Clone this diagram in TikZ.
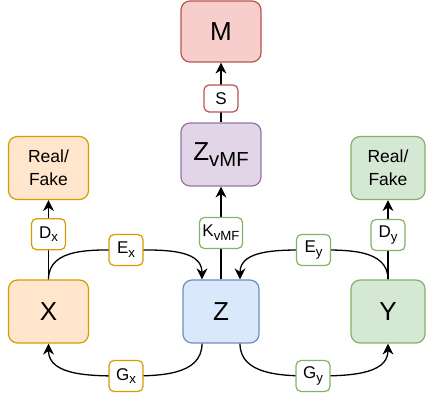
\documentclass[tikz,border=0pt]{standalone}
\usepackage{fontspec}
\usepackage{graphicx}
\setmainfont{Liberation Sans}
\usetikzlibrary{arrows.meta}

\definecolor{orangefill}{HTML}{FFE6CC}
\definecolor{orangeline}{HTML}{D79B00}
\definecolor{bluefill}{HTML}{DAE8FC}
\definecolor{blueline}{HTML}{6C8EBF}
\definecolor{greenfill}{HTML}{D5E8D4}
\definecolor{greenline}{HTML}{82B366}
\definecolor{purplefill}{HTML}{E1D5E7}
\definecolor{purpleline}{HTML}{9673A6}
\definecolor{redfill}{HTML}{F8CECC}
\definecolor{redline}{HTML}{B85450}

% lowered index for the labels
\newcommand{\idx}[1]{\raisebox{-.22em}{\scalebox{.78}{#1}}}

\begin{document}
\begin{tikzpicture}[
    x=1pt, y=1pt,
    block/.style={
        draw,
        rounded corners=9pt,
        line width=1.2pt,
        minimum width=80pt,
        minimum height=63pt,
        inner sep=0pt,
        font=\fontsize{26}{30}\selectfont
    },
    judge/.style={
        block,
        align=center,
        font=\fontsize{17.5}{23}\selectfont
    },
    tag/.style={
        draw,
        fill=white,
        rounded corners=5pt,
        line width=1.2pt,
        minimum width=34pt,
        minimum height=31pt,
        inner xsep=3pt,
        font=\fontsize{17}{20}\selectfont
    },
    flow/.style={
        line width=1.3pt,
        -{Stealth[length=11pt,width=11pt,inset=3.5pt]}
    }
]
    \useasboundingbox (0,0) rectangle (426,401);

    \node[block, fill=redfill, draw=redline, minimum height=61pt] (M) at (221,369.5) {M};
    \node[block, fill=purplefill, draw=purpleline] (Zv) at (221,246.5) {Z\idx{vMF}};

    \node[judge, fill=orangefill, draw=orangeline] (RFx) at (48.5,233) {Real/\\Fake};
    \node[judge, fill=greenfill, draw=greenline, minimum width=74pt] (RFy) at (388,233) {Real/\\Fake};

    \node[block, fill=orangefill, draw=orangeline] (X) at (48.5,89.5) {X};
    \node[block, fill=bluefill, draw=blueline, minimum width=76pt] (Z) at (221,89.5) {Z};
    \node[block, fill=greenfill, draw=greenline, minimum width=74pt] (Y) at (388,89.5) {Y};

    % bend points of the encoder / generator curves
    \node[coordinate] (ex) at (126,151) {};
    \node[coordinate] (ey) at (313.5,151) {};
    \node[coordinate] (gx) at (126,25) {};
    \node[coordinate] (gy) at (313,25) {};

    \draw[flow] (Zv) -- node[tag, draw=redline, pos=0.4, minimum height=27pt] (S) {S} (M);
    \draw[flow] (Z) -- node[tag, draw=greenline] (K) {K\idx{vMF}} (Zv);
    \draw[flow] (X) -- node[tag, draw=orangeline, pos=0.57] (Dx) {D\idx{x}} (RFx);
    \draw[flow] (Y) -- node[tag, draw=greenline, pos=0.56] (Dy) {D\idx{y}} (RFy);

    \draw[flow] (X.north) to[out=90, in=180] (ex) node[tag, draw=orangeline] (Ex) {E\idx{x}}
        to[out=0, in=90] ([xshift=-19pt]Z.north);
    \draw[flow] (Y.north) to[out=90, in=0] (ey) node[tag, draw=greenline] (Ey) {E\idx{y}}
        to[out=180, in=90] ([xshift=19pt]Z.north);

    \draw[flow] ([xshift=-19pt]Z.south) to[out=-90, in=0] (gx) node[tag, draw=orangeline] (Gx) {G\idx{x}}
        to[out=180, in=-90] (X.south);
    \draw[flow] ([xshift=19pt]Z.south) to[out=-90, in=180] (gy) node[tag, draw=greenline] (Gy) {G\idx{y}}
        to[out=0, in=-90] (Y.south);

\end{tikzpicture}
\end{document}
